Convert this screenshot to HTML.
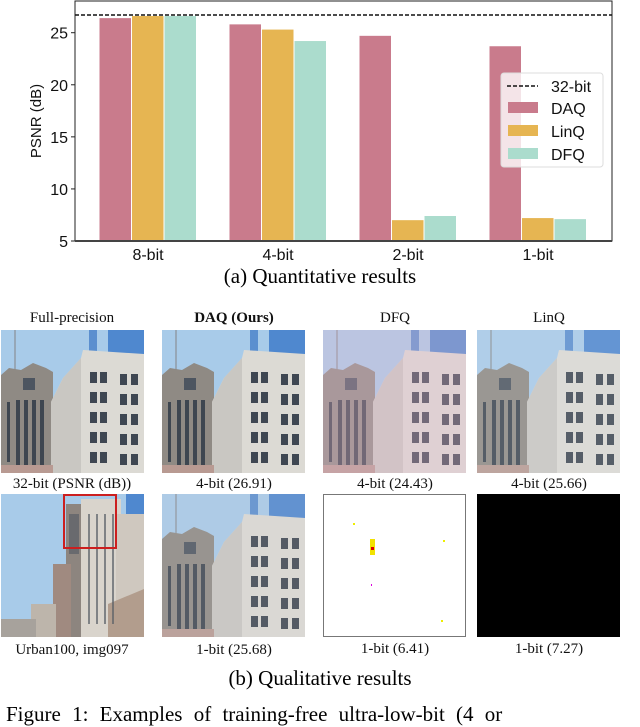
<!DOCTYPE html>
<html><head><meta charset="utf-8">
<style>
body{margin:0;background:#fff;width:640px;height:719px;overflow:hidden;position:relative;font-family:"Liberation Serif",serif;}
.lbl{position:absolute;font-size:15px;text-align:center;width:170px;color:#111;}
.img{position:absolute;width:143px;height:143px;}
</style></head><body>
<svg id="chart" width="640" height="300" style="position:absolute;left:0;top:0" font-family="Liberation Sans, DejaVu Sans, sans-serif"></svg>
<div style="position:absolute;left:0;width:640px;top:264px;text-align:center;font-size:21px;">(a) Quantitative results</div>

<svg width="0" height="0" style="position:absolute">
<defs>
<g id="bld">
<rect width="143" height="143" fill="#a8cbe9"/>
<rect x="107" y="0" width="36" height="25" fill="#4f88cf"/>
<rect x="88" y="0" width="8" height="22" fill="#5b8fcf"/>
<line x1="14" y1="0" x2="14" y2="40" stroke="#8a8f96" stroke-width="1.2"/>
<path d="M0 45 L8 38 L20 40 L32 33 L45 38 L52 42 L52 143 L0 143 Z" fill="#8f8a84"/>
<rect x="22" y="48" width="12" height="12" fill="#4d5560"/>
<g fill="#3e4650"><rect x="15" y="70" width="4" height="70"/><rect x="23" y="70" width="4" height="70"/><rect x="31" y="70" width="4" height="70"/><rect x="39" y="70" width="4" height="70"/><rect x="6" y="72" width="3" height="60"/></g>
<path d="M50 72 L62 48 L80 28 L82 20 L143 24 L143 143 L50 143 Z" fill="#dcdad4"/>
<path d="M50 72 L62 48 L80 28 L80 143 L50 143 Z" fill="#c9c7c2"/>
<g fill="#3f4752">
<rect x="89" y="42" width="7" height="11"/><rect x="99" y="42" width="7" height="11"/><rect x="119" y="44" width="7" height="11"/><rect x="130" y="44" width="7" height="11"/>
<rect x="89" y="62" width="7" height="11"/><rect x="99" y="62" width="7" height="11"/><rect x="119" y="64" width="7" height="11"/><rect x="130" y="64" width="7" height="11"/>
<rect x="89" y="82" width="7" height="11"/><rect x="99" y="82" width="7" height="11"/><rect x="119" y="84" width="7" height="11"/><rect x="130" y="84" width="7" height="11"/>
<rect x="89" y="102" width="7" height="11"/><rect x="99" y="102" width="7" height="11"/><rect x="119" y="104" width="7" height="11"/><rect x="130" y="104" width="7" height="11"/>
<rect x="89" y="122" width="7" height="11"/><rect x="99" y="122" width="7" height="11"/><rect x="119" y="124" width="7" height="11"/><rect x="130" y="124" width="7" height="11"/>
</g>
<rect x="0" y="135" width="52" height="8" fill="#b89a92"/>
</g>
</defs>
</svg>

<div class="lbl" style="left:-13px;top:310px;">Full-precision</div>
<div class="lbl" style="left:149px;top:310px;font-weight:bold;">DAQ (Ours)</div>
<div class="lbl" style="left:310px;top:310px;">DFQ</div>
<div class="lbl" style="left:464px;top:310px;">LinQ</div>

<svg class="img" style="left:1px;top:330px" viewBox="0 0 143 143"><use href="#bld"/></svg>
<svg class="img" style="left:162px;top:330px" viewBox="0 0 143 143"><use href="#bld"/></svg>
<svg class="img" style="left:323px;top:330px" viewBox="0 0 143 143"><use href="#bld"/><rect width="143" height="143" fill="#e8b8d0" opacity="0.3"/></svg>
<svg class="img" style="left:477px;top:330px" viewBox="0 0 143 143"><use href="#bld"/><rect width="143" height="143" fill="#dde6ee" opacity="0.15"/></svg>

<div class="lbl" style="left:-13px;top:476px;">32-bit (PSNR (dB))</div>
<div class="lbl" style="left:149px;top:476px;">4-bit (26.91)</div>
<div class="lbl" style="left:310px;top:476px;">4-bit (24.43)</div>
<div class="lbl" style="left:464px;top:476px;">4-bit (25.66)</div>

<svg class="img" style="left:1px;top:494px" viewBox="0 0 143 143">
<rect width="143" height="143" fill="#a8cbe9"/>
<rect x="125" y="0" width="18" height="40" fill="#4f88cf"/>
<rect x="65" y="10" width="18" height="133" fill="#8d857f"/>
<rect x="80" y="5" width="40" height="138" fill="#d9d4cc"/>
<rect x="115" y="20" width="28" height="123" fill="#cfc8bf"/>
<rect x="52" y="70" width="18" height="73" fill="#a08a80"/>
<rect x="30" y="110" width="25" height="33" fill="#bdb5ab"/>
<rect x="0" y="125" width="35" height="18" fill="#a7a29c"/>
<path d="M107 110 L143 95 L143 143 L107 143 Z" fill="#b29d8d"/>
<g fill="#5a6068" opacity="0.7"><rect x="87" y="20" width="2" height="110"/><rect x="95" y="20" width="2" height="110"/><rect x="103" y="20" width="2" height="110"/><rect x="111" y="20" width="2" height="110"/><rect x="68" y="20" width="10" height="40"/></g>
<rect x="63" y="1" width="52" height="53" fill="none" stroke="#cc1f1f" stroke-width="2"/>
</svg>
<svg class="img" style="left:162px;top:494px" viewBox="0 0 143 143"><use href="#bld"/><rect width="143" height="143" fill="#cfd3d8" opacity="0.15"/></svg>
<svg class="img" style="left:323px;top:494px" viewBox="0 0 143 143">
<rect x="0.5" y="0.5" width="142" height="142" fill="#fff" stroke="#777" stroke-width="1"/>
<rect x="30" y="29" width="2" height="2" fill="#ee0"/>
<rect x="47" y="45" width="5" height="16" fill="#f2e200"/><rect x="48" y="53" width="3" height="3" fill="#d00"/>
<rect x="120" y="46" width="2" height="2" fill="#ee0"/><rect x="118" y="126" width="2" height="2" fill="#ee0"/>
<rect x="48" y="90" width="1" height="2" fill="#d0d"/>
</svg>
<svg class="img" style="left:477px;top:494px" viewBox="0 0 143 143"><rect width="143" height="143" fill="#000"/></svg>

<div class="lbl" style="left:-13px;top:642px;">Urban100, img097</div>
<div class="lbl" style="left:149px;top:642px;">1-bit (25.68)</div>
<div class="lbl" style="left:310px;top:641px;">1-bit (6.41)</div>
<div class="lbl" style="left:464px;top:641px;">1-bit (7.27)</div>

<div style="position:absolute;left:0;width:640px;top:666px;text-align:center;font-size:21px;">(b) Qualitative results</div>
<div style="position:absolute;left:6px;top:702px;font-size:21px;word-spacing:6px;white-space:nowrap;">Figure 1: Examples of training-free ultra-low-bit (4 or</div>

<script>
const categories=["8-bit","4-bit","2-bit","1-bit"];
const seriesNames=["DAQ","LinQ","DFQ"];
const daq=[26.4,25.8,24.7,23.7];
const linq=[26.6,25.3,7.0,7.2];
const dfq=[26.6,24.2,7.4,7.1];
const baseline32=26.7;
const yTicks=[5,10,15,20,25];
const colors=["#c97b8c","#e6b552","#abdccd"];
const NS="http://www.w3.org/2000/svg";
const svg=document.getElementById('chart');
const L=75,R=612,T=0,B=241;
function y(v){return B-(v-5)/(26.7-5)*(B-15);}
function xc(i){return 148+i*130;}
function mk(t,a,p){const e=document.createElementNS(NS,t);for(const k in a)e.setAttribute(k,a[k]);(p||svg).appendChild(e);return e;}
const series=[daq,linq,dfq];
series.forEach((s,si)=>{s.forEach((v,i)=>{
 const r=mk('rect',{x:xc(i)+(si-1)*32.5-16,y:y(v),width:31.5,height:B-y(v),fill:colors[si]});
 
 
});});
const ax=mk('path',{d:`M${L} ${T+1}H${R}V${B}H${L}Z`,fill:'none',stroke:'#222','stroke-width':1});


mk('line',{x1:L,x2:R,y1:B,y2:B,stroke:'#444','stroke-width':2});
const bl=mk('line',{x1:L,x2:R,y1:y(baseline32),y2:y(baseline32),stroke:'#111','stroke-width':1.5,'stroke-dasharray':'4,2'});


yTicks.forEach(t=>{
 mk('line',{x1:L-4,x2:L,y1:y(t),y2:y(t),stroke:'#222'});
 const tx=mk('text',{x:L-7,y:y(t)+6,'text-anchor':'end','font-size':16,fill:'#111'});tx.textContent=t;
 
 
});
categories.forEach((c,i)=>{
 const tx=mk('text',{x:xc(i),y:260,'text-anchor':'middle','font-size':16,fill:'#111'});tx.textContent=c;
 
 
});
const yt=mk('text',{x:0,y:0,transform:'translate(41 121) rotate(-90)','text-anchor':'middle','font-size':15,fill:'#111'});yt.textContent='PSNR (dB)';


const lg=mk('g',{});


mk('rect',{x:501,y:73,width:102,height:94,rx:3,fill:'#fff','fill-opacity':0.8,stroke:'#ddd'},lg);
mk('line',{x1:507,x2:538,y1:86,y2:86,stroke:'#111','stroke-width':1.5,'stroke-dasharray':'4,2'},lg);
let t0=mk('text',{x:551,y:92,'font-size':16,fill:'#111'},lg);t0.textContent='32-bit';
seriesNames.forEach((n,i)=>{
 mk('rect',{x:508,y:102+i*23,width:30,height:11,fill:colors[i]},lg);
 const t=mk('text',{x:551,y:114+i*23,'font-size':16,fill:'#111'},lg);t.textContent=n;
 
 
});
</script>
</body></html>
